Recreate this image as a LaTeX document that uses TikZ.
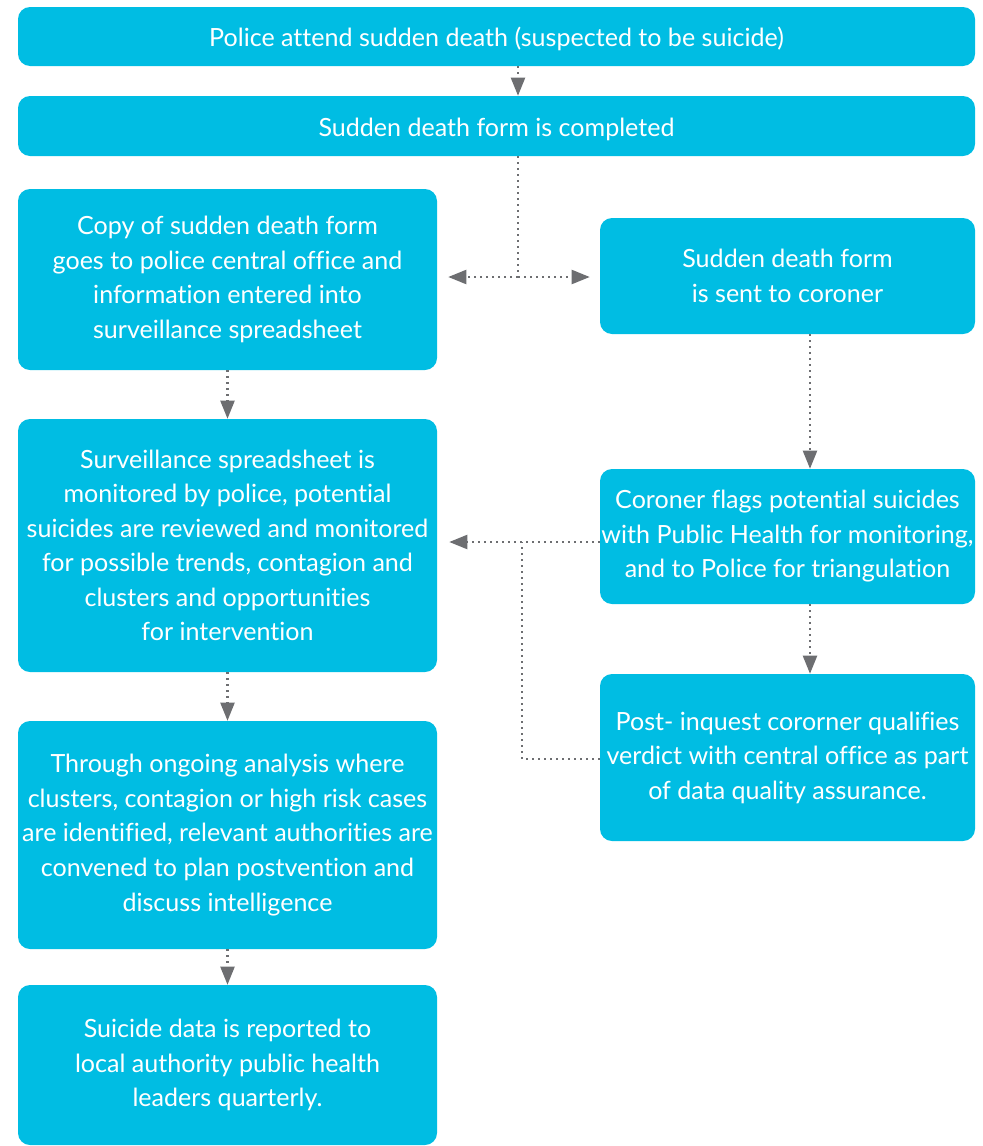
\documentclass[tikz,border=0pt]{standalone}
\usepackage{fontspec}
\setmainfont{Lato}[Ligatures=NoCommon]
\usetikzlibrary{arrows.meta}
\definecolor{boxcyan}{HTML}{00BDE3}
\definecolor{arrowgrey}{HTML}{6D6E71}
\tikzset{stepbox/.style = {shape=rectangle,fill=boxcyan,rounded corners=9pt,text=white,inner sep=0pt,align=center,font=\fontsize{18.8}{25.9}\selectfont,execute at begin node={\rule{0pt}{18.5pt}}}}
\tikzset{link/.style = {draw=arrowgrey,line width=1.6pt,dash pattern=on 1.6pt off 2.9pt}}
\tikzset{flow/.style = {link,-{Triangle[length=13.5pt,width=10.5pt]}}}

\begin{document}
\begin{tikzpicture}[x=0.75pt,y=-0.75pt]
		\useasboundingbox (0,0) rectangle (982,1146);
		% boxes
		\node[stepbox,minimum width=957*0.75pt,minimum height=59*0.75pt] (attend) at (496.5,36.5) {Police attend sudden death (suspected to be suicide)};
		\node[stepbox,minimum width=957*0.75pt,minimum height=60*0.75pt] (form) at (496.5,126) {Sudden death form is completed};
		\node[stepbox,minimum width=419*0.75pt,minimum height=181*0.75pt] (copy) at (227.5,279.5) {Copy of sudden death form\\goes to police central office and\\information entered into\\surveillance spreadsheet};
		\node[stepbox,minimum width=375*0.75pt,minimum height=116*0.75pt] (coroner) at (787.5,276) {Sudden death form\\is sent to coroner};
		\node[stepbox,minimum width=419*0.75pt,minimum height=253*0.75pt] (monitor) at (227.5,545.5) {Surveillance spreadsheet is\\monitored by police, potential\\suicides are reviewed and monitored\\for possible trends, contagion and\\clusters and opportunities\\for intervention};
		\node[stepbox,minimum width=375*0.75pt,minimum height=135*0.75pt] (flags) at (787.5,536.5) {Coroner flags potential suicides\\with Public Health for monitoring,\\and to Police for triangulation};
		\node[stepbox,minimum width=375*0.75pt,minimum height=167*0.75pt] (inquest) at (787.5,757.5) {Post- inquest cororner qualifies\\verdict with central office as part\\of data quality assurance.};
		\node[stepbox,minimum width=419*0.75pt,minimum height=228*0.75pt] (analysis) at (227.5,835) {Through ongoing analysis where\\clusters, contagion or high risk cases\\are identified, relevant authorities are\\convened to plan postvention and\\discuss intelligence};
		\node[stepbox,minimum width=419*0.75pt,minimum height=160*0.75pt] (report) at (227.5,1065) {Suicide data is reported to\\local authority public health\\leaders quarterly.};

		% junctions
		\coordinate (split) at (518,277);
		\coordinate (join) at (522,542);
		\coordinate (rcol) at (810,0);

		% connectors
		\draw[flow] (split |- attend.south) -- (split |- form.north);
		\draw[link] (split |- form.south) -- (split);
		\draw[flow] (split) -- ([xshift=8.25pt]split -| copy.east);
		\draw[flow] (split) -- ([xshift=-7.5pt]split -| coroner.west);
		\draw[flow] (copy.south) -- (monitor.north);
		\draw[flow] (rcol |- coroner.south) -- (rcol |- flags.north);
		\draw[flow] (join -| flags.west) -- ([xshift=9pt]join -| monitor.east);
		\draw[flow] (rcol |- flags.south) -- (rcol |- inquest.north);
		\draw[link] (inquest.west |- 0,759) -| (join);
		\draw[flow] (monitor.south) -- (analysis.north);
		\draw[flow] (analysis.south) -- (report.north);
\end{tikzpicture}
\end{document}
